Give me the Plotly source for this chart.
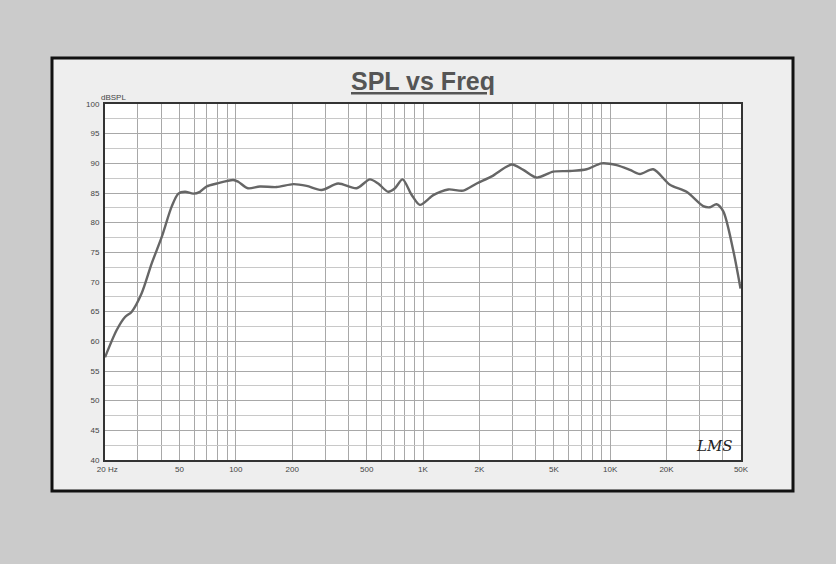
import plotly.graph_objects as go

OUTER_BG = "#cbcbcb"
FRAME_BG = "#eeeeee"
GRID_MAJOR = "#a8a8a8"
GRID_MINOR = "#c8c8c8"
CURVE_COLOR = "#666666"
TEXT_COLOR = "#444444"

FREQ_HZ = [
    20, 23.1, 25.6, 27.8, 31.4, 35.5, 40.2, 45.4, 49.3, 53.5, 59.3, 64.3, 69.8, 79,
    96.9, 103, 116, 134.5, 165, 203, 239, 287, 352, 442, 520, 576, 652, 708, 778,
    869, 962, 1089, 1135, 1365, 1641, 1936, 2328, 2977, 3435, 4048, 4966, 6097,
    7487, 9000, 10820, 12750, 14420, 16990, 20850, 25600, 31400, 34100, 37000,
    40200, 45400, 49700,
]
SPL_DB = [
    57.3, 61.9, 64.1, 65.0, 68.1, 73.1, 77.6, 82.7, 84.9, 85.2, 84.9, 85.2, 86.1, 86.6,
    87.2, 86.9, 85.8, 86.1, 86.0, 86.5, 86.2, 85.5, 86.6, 85.8, 87.3, 86.6, 85.2, 85.8, 87.3,
    84.7, 83.0, 84.2, 84.65, 85.6, 85.4, 86.6, 87.8, 89.8, 88.9, 87.6, 88.6, 88.7,
    89.0, 90.0, 89.7, 88.9, 88.2, 89.0, 86.4, 85.2, 82.8, 82.6, 83.1,
    81.9, 75.4, 68.9,
]

X_TICKS = [20, 50, 100, 200, 500, 1000, 2000, 5000, 10000, 20000, 50000]
X_TICK_TEXT = ["  20 Hz", "50", "100", "200", "500", "1K", "2K", "5K", "10K", "20K", "50K"]
X_MINOR = [30, 40, 60, 70, 80, 90, 300, 400, 600, 700, 800, 900,
           3000, 4000, 6000, 7000, 8000, 9000, 30000, 40000]

fig = go.Figure()
fig.add_trace(
    go.Scatter(
        x=FREQ_HZ,
        y=SPL_DB,
        mode="lines",
        line=dict(color=CURVE_COLOR, width=2.4, shape="spline", smoothing=0.8),
        showlegend=False,
        hoverinfo="x+y",
    )
)

# grey frame panel behind the chart, then white plot area on top of it
fig.add_shape(
    type="rect", xref="paper", yref="paper", layer="below",
    x0=-53 / 636, x1=688 / 636, y0=-31 / 356, y1=402 / 356,
    fillcolor=FRAME_BG, line=dict(color="#111111", width=3),
)
fig.add_shape(
    type="rect", xref="paper", yref="paper", layer="below",
    x0=0, x1=1, y0=0, y1=1, fillcolor="#ffffff", line=dict(width=0),
)

fig.add_annotation(
    text="<b><u>SPL vs Freq</u></b>", xref="paper", yref="paper",
    x=0.5, y=1.0, yshift=23, yanchor="middle", showarrow=False,
    font=dict(size=25, color="#555555", family="Liberation Sans, Arial, sans-serif"),
)
fig.add_annotation(
    text="dBSPL", xref="paper", yref="paper", x=0.0, y=1.0,
    xanchor="left", yanchor="bottom", showarrow=False, xshift=-6,
    font=dict(size=8, color=TEXT_COLOR),
)
fig.add_annotation(
    text="<i>LMS</i>", xref="paper", yref="paper", x=1.0, y=0.0,
    xanchor="right", yanchor="bottom", showarrow=False, xshift=-6, yshift=3,
    font=dict(size=15, color="#222222", family="DejaVu Serif, serif"),
)

fig.update_layout(
    width=836,
    height=564,
    margin=dict(l=105, r=95, t=104, b=104),
    paper_bgcolor=OUTER_BG,
    plot_bgcolor="#ffffff",
    font=dict(family="Liberation Sans, Arial, sans-serif", size=8, color=TEXT_COLOR),
    xaxis=dict(
        type="log",
        range=[1.30103, 4.69897],
        tickmode="array",
        tickvals=X_TICKS,
        ticktext=X_TICK_TEXT,
        ticks="",
        showgrid=True,
        gridcolor=GRID_MAJOR,
        gridwidth=1.3,
        minor=dict(tickmode="array", tickvals=X_MINOR, showgrid=True, gridcolor=GRID_MAJOR, ticks=""),
        showline=True,
        linecolor="#333333",
        linewidth=2,
        mirror=True,
        zeroline=False,
        tickfont=dict(size=8, color=TEXT_COLOR),
    ),
    yaxis=dict(
        range=[40, 100],
        dtick=5,
        tick0=40,
        ticks="",
        showgrid=True,
        gridcolor=GRID_MAJOR,
        gridwidth=1.3,
        minor=dict(dtick=2.5, showgrid=True, gridcolor=GRID_MINOR, ticks=""),
        showline=True,
        linecolor="#333333",
        linewidth=2,
        mirror=True,
        zeroline=False,
        ticklabelstandoff=2,
        tickfont=dict(size=8, color=TEXT_COLOR),
    ),
)

fig.write_html(
    "out.html",
    config={"displayModeBar": False},
    post_script="document.body.style.margin='0';",
)
